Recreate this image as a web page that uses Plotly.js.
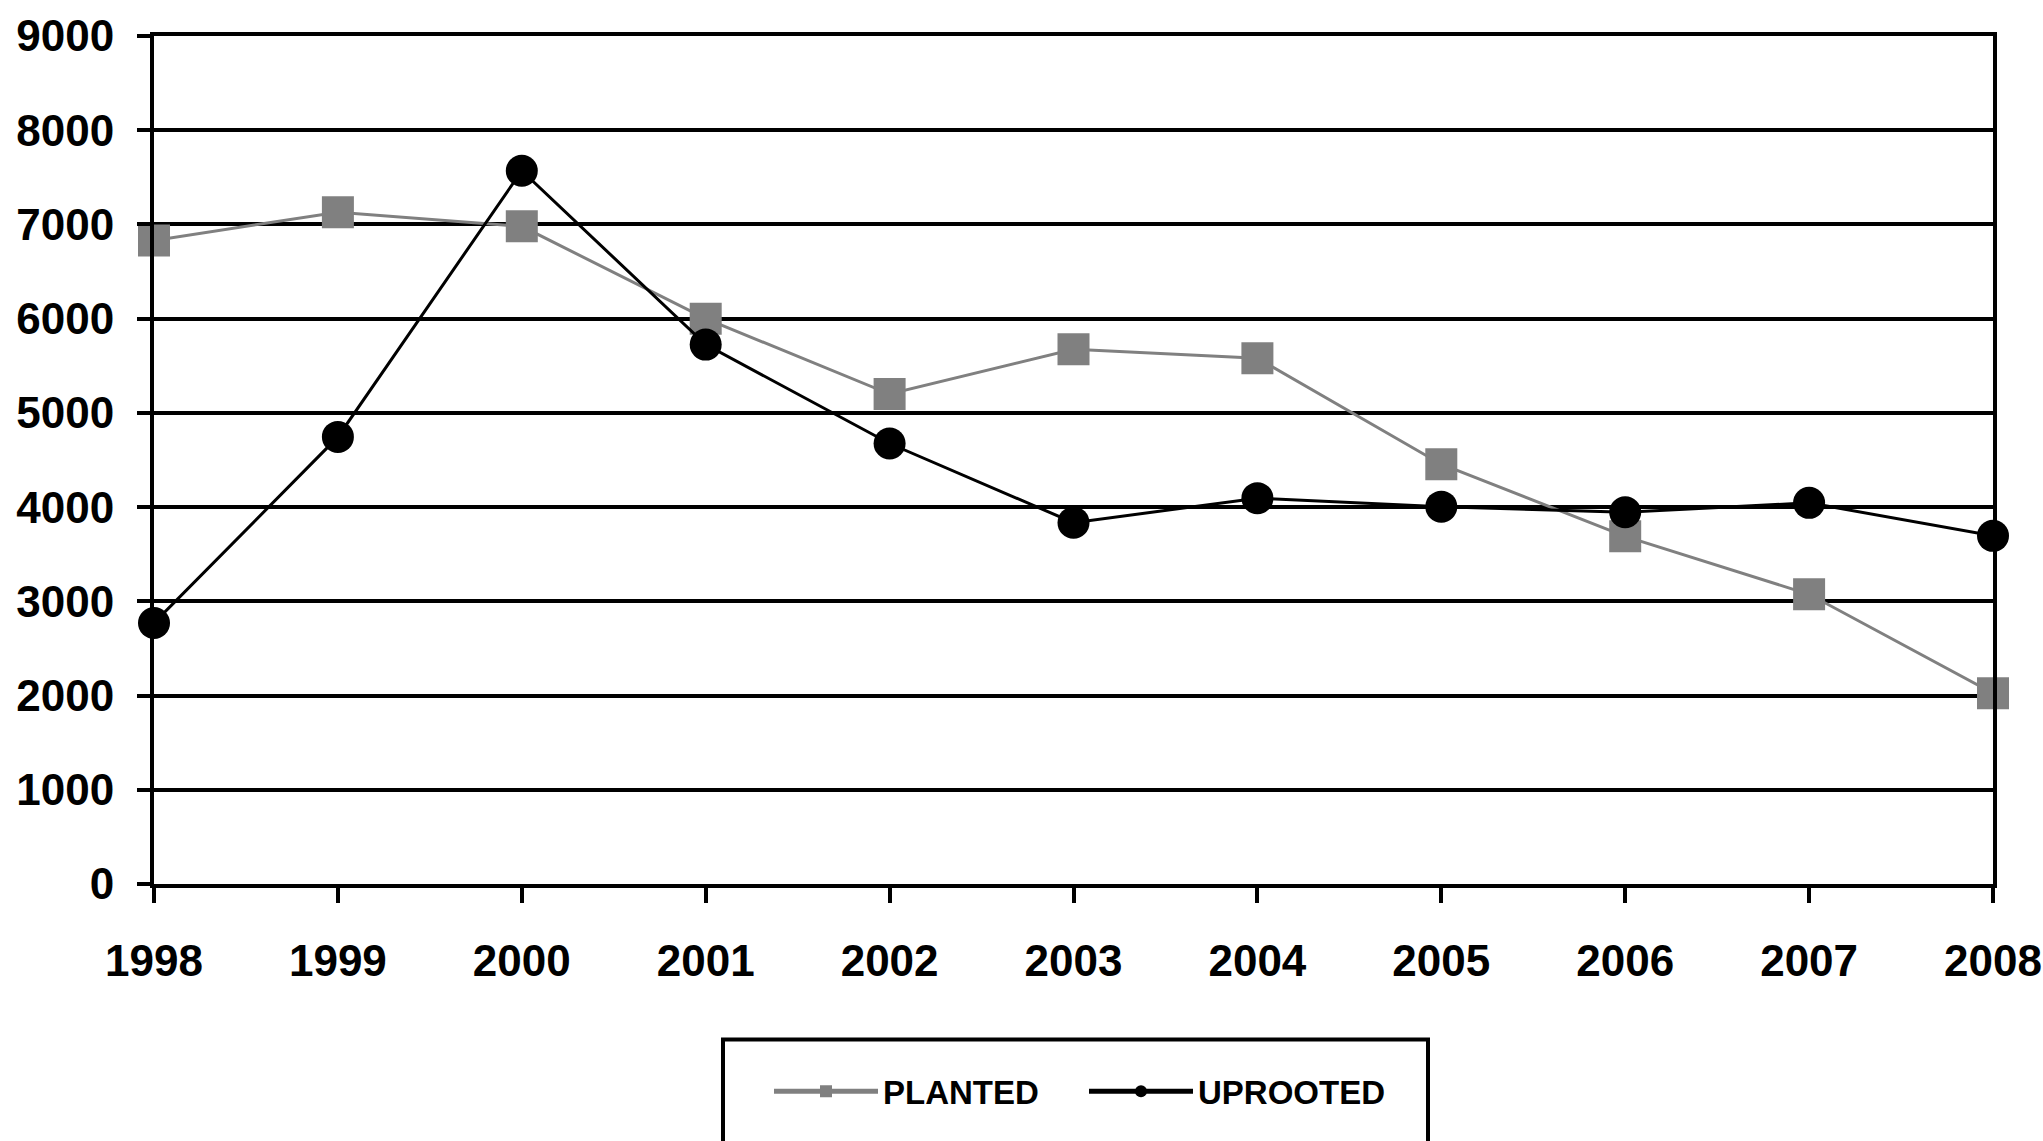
<!DOCTYPE html>
<html>
<head>
<meta charset="utf-8">
<script src="https://cdn.plot.ly/plotly-3.0.1.min.js"></script>
<style>
  html, body { margin: 0; padding: 0; background: #ffffff; }
  #chart { width: 2043px; height: 1141px; }
</style>
</head>
<body>
<div id="chart"></div>
<script>
// ---- data ----
const years = [1998, 1999, 2000, 2001, 2002, 2003, 2004, 2005, 2006, 2007, 2008];
const planted = [6830, 7130, 6980, 6000, 5200, 5675, 5580, 4455, 3690, 3075, 2025];
const uprooted = [2770, 4745, 7570, 5725, 4675, 3835, 4095, 4005, 3945, 4045, 3695];
const seriesNames = ["PLANTED", "UPROOTED"];
const yTicks = [0, 1000, 2000, 3000, 4000, 5000, 6000, 7000, 8000, 9000];

const FONT = "Liberation Sans, Arial, Helvetica, sans-serif";

const traces = [
  {
    x: years, y: planted, name: seriesNames[0], type: "scatter", mode: "lines+markers",
    line: { color: "#808080", width: 3 },
    marker: { symbol: "square", size: 32, color: "#808080" },
    cliponaxis: false
  },
  {
    x: years, y: uprooted, name: seriesNames[1], type: "scatter", mode: "lines+markers",
    line: { color: "#000000", width: 3 },
    marker: { symbol: "circle", size: 32, color: "#000000" },
    cliponaxis: false
  }
];

const layout = {
  width: 2043, height: 1141,
  paper_bgcolor: "#ffffff", plot_bgcolor: "#ffffff",
  margin: { l: 154, r: 50, t: 36, b: 257, pad: 0 },
  showlegend: true,
  font: { family: FONT, color: "#000000" },
  xaxis: {
    range: [1998, 2008],
    tickvals: years,
    ticktext: years.map(String),
    showgrid: false, zeroline: false,
    showline: true, linecolor: "#000000", linewidth: 4, mirror: true,
    ticks: "outside", ticklen: 15, tickwidth: 4, tickcolor: "#000000",
    ticklabelstandoff: 20,
    tickfont: { family: FONT, size: 44, weight: "bold", color: "#000000" }
  },
  yaxis: {
    range: [0, 9000],
    tickvals: yTicks,
    ticktext: yTicks.map(String),
    showgrid: true, gridcolor: "#000000", gridwidth: 4,
    zeroline: false,
    showline: true, linecolor: "#000000", linewidth: 4, mirror: true,
    ticks: "outside", ticklen: 13, tickwidth: 4, tickcolor: "#000000",
    ticklabelstandoff: 14,
    tickfont: { family: FONT, size: 44, weight: "bold", color: "#000000" }
  },
  legend: {
    orientation: "h",
    x: (769 - 154) / 1839, xanchor: "left",
    y: (884.5 - 1092) / 848.5, yanchor: "middle",
    bgcolor: "rgba(0,0,0,0)", borderwidth: 0,
    font: { family: FONT, size: 33, weight: "bold", color: "#000000" },
    itemwidth: 104,
    itemsizing: "constant",
    entrywidth: 196, entrywidthmode: "pixels",
    itemclick: false
  },
  shapes: [
    {
      type: "rect", xref: "paper", yref: "paper",
      x0: (723 - 154) / 1839, x1: (1428 - 154) / 1839,
      y0: (884.5 - 1040) / 848.5, y1: (884.5 - 1170) / 848.5,
      line: { color: "#000000", width: 4 }, fillcolor: "rgba(0,0,0,0)",
      layer: "below"
    }
  ]
};

Plotly.newPlot("chart", traces, layout, { displayModeBar: false, staticPlot: true });
</script>
</body>
</html>
